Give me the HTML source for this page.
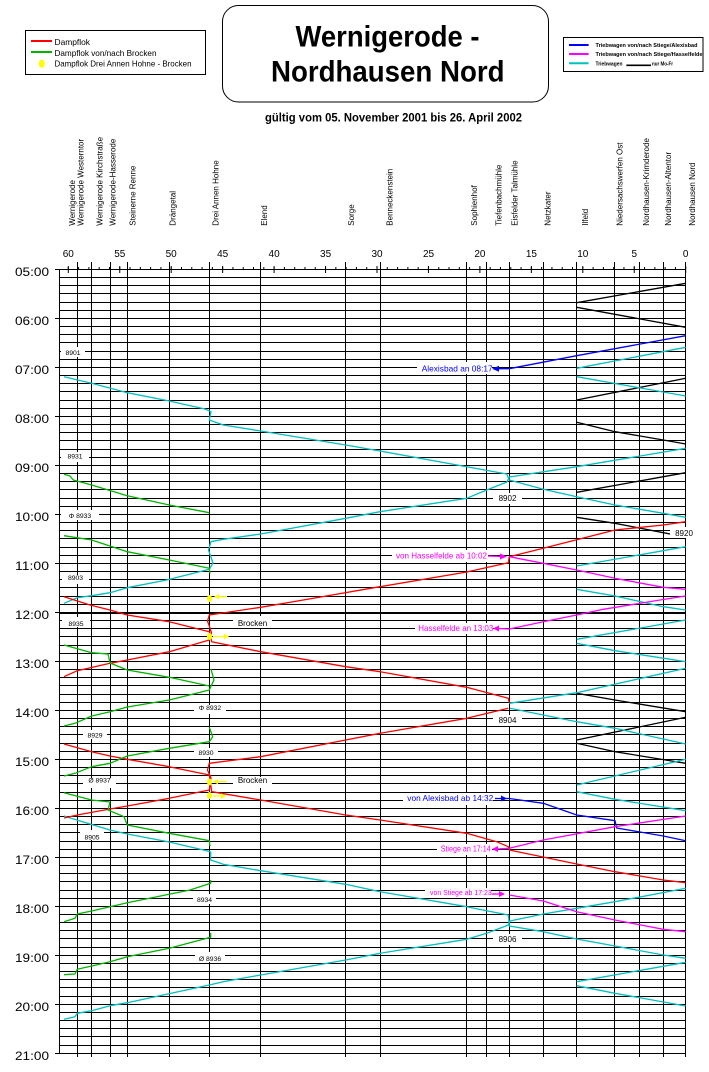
<!DOCTYPE html>
<html><head><meta charset="utf-8"><style>
html,body{margin:0;padding:0;background:#fff;}
svg{display:block;}
text{font-family:"Liberation Sans",Arial,sans-serif;}
</style></head><body>
<svg width="709" height="1072" viewBox="0 0 709 1072" xmlns="http://www.w3.org/2000/svg">
<rect x="0" y="0" width="709" height="1072" fill="#fff"/>

<!-- Left legend -->
<rect x="25.5" y="30.5" width="180" height="44" fill="#fff" stroke="#000"/>
<line x1="31" y1="41" x2="52" y2="41" stroke="#ff0000" stroke-width="2"/>
<line x1="31" y1="52" x2="52" y2="52" stroke="#00b400" stroke-width="2"/>
<ellipse cx="41.8" cy="63.8" rx="3" ry="4" fill="#ffff00"/>
<text x="54.5" y="45" font-size="8.4" textLength="35.5" lengthAdjust="spacingAndGlyphs">Dampflok</text>
<text x="54.5" y="56" font-size="8.4" textLength="102" lengthAdjust="spacingAndGlyphs">Dampflok von/nach Brocken</text>
<text x="54.5" y="66.7" font-size="8.4" textLength="137" lengthAdjust="spacingAndGlyphs">Dampflok Drei Annen Hohne - Brocken</text>

<!-- Title -->
<rect x="222.5" y="5.5" width="326" height="96.5" rx="16" ry="16" fill="#fff" stroke="#000"/>
<text x="295.5" y="46.7" font-size="30" font-weight="bold" textLength="184" lengthAdjust="spacingAndGlyphs">Wernigerode -</text>
<text x="271" y="81.7" font-size="30" font-weight="bold" textLength="233.5" lengthAdjust="spacingAndGlyphs">Nordhausen Nord</text>
<text x="265" y="121.7" font-size="11.5" font-weight="bold" textLength="257" lengthAdjust="spacingAndGlyphs">gültig vom 05. November 2001 bis 26. April 2002</text>

<!-- Right legend -->
<rect x="563.5" y="37.5" width="139.5" height="34" fill="#fff" stroke="#000"/>
<line x1="569" y1="45" x2="588.6" y2="45" stroke="#0000ff" stroke-width="2"/>
<line x1="569" y1="54" x2="588.6" y2="54" stroke="#ff00ff" stroke-width="2"/>
<line x1="569" y1="63.2" x2="588.6" y2="63.2" stroke="#00c0c0" stroke-width="2"/>
<text x="595.5" y="47.2" font-size="5.6" font-weight="bold" textLength="102" lengthAdjust="spacingAndGlyphs">Triebwagen von/nach Stiege/Alexisbad</text>
<text x="595.5" y="56.2" font-size="5.6" font-weight="bold" textLength="107" lengthAdjust="spacingAndGlyphs">Triebwagen von/nach Stiege/Hasselfelde</text>
<text x="595.5" y="65.4" font-size="5.6" font-weight="bold" textLength="27" lengthAdjust="spacingAndGlyphs">Triebwagen</text>
<line x1="626.4" y1="65.3" x2="651" y2="65.3" stroke="#000" stroke-width="1.6"/>
<text x="652" y="65.4" font-size="5.6" font-weight="bold" textLength="21" lengthAdjust="spacingAndGlyphs">nur Mo-Fr</text>

<!-- Station labels (rotated) -->
<g font-size="8" fill="#000">
<text transform="translate(75,225.7) rotate(-90)">Wernigerode</text>
<text transform="translate(83.5,225.7) rotate(-90)">Wernigerode Westerntor</text>
<text transform="translate(102.5,225.7) rotate(-90)">Wernigerode Kirchstraße</text>
<text transform="translate(115.5,225.7) rotate(-90)">Wernigerode-Hasserode</text>
<text transform="translate(135.5,225.7) rotate(-90)">Steinerne Renne</text>
<text transform="translate(175.5,225.7) rotate(-90)">Drängetal</text>
<text transform="translate(218.5,225.7) rotate(-90)">Drei Annen Hohne</text>
<text transform="translate(267,225.7) rotate(-90)">Elend</text>
<text transform="translate(354,225.7) rotate(-90)">Sorge</text>
<text transform="translate(392.5,225.7) rotate(-90)">Benneckenstein</text>
<text transform="translate(477,225.7) rotate(-90)">Sophienhof</text>
<text transform="translate(501.5,225.7) rotate(-90)">Tiefenbachmühle</text>
<text transform="translate(517.5,225.7) rotate(-90)">Eisfelder Talmühle</text>
<text transform="translate(550.5,225.7) rotate(-90)">Netzkater</text>
<text transform="translate(588,225.7) rotate(-90)">Ilfeld</text>
<text transform="translate(622.5,225.7) rotate(-90)">Niedersachswerfen Ost</text>
<text transform="translate(649,225.7) rotate(-90)">Nordhausen-Krimderode</text>
<text transform="translate(671,225.7) rotate(-90)">Nordhausen-Altentor</text>
<text transform="translate(695,225.7) rotate(-90)">Nordhausen Nord</text>
</g>

<!-- km labels -->
<g font-size="10" text-anchor="middle" fill="#000">
<text x="68.3" y="257">60</text>
<text x="119.8" y="257">55</text>
<text x="171.2" y="257">50</text>
<text x="222.7" y="257">45</text>
<text x="274.1" y="257">40</text>
<text x="325.6" y="257">35</text>
<text x="377" y="257">30</text>
<text x="428.5" y="257">25</text>
<text x="479.9" y="257">20</text>
<text x="531.4" y="257">15</text>
<text x="582.8" y="257">10</text>
<text x="634.3" y="257">5</text>
<text x="685.7" y="257">0</text>
</g>

<!-- hour labels -->
<g font-size="11.5" fill="#000">
<text x="15" y="276" textLength="34" lengthAdjust="spacingAndGlyphs">05:00</text>
<text x="15" y="325" textLength="34" lengthAdjust="spacingAndGlyphs">06:00</text>
<text x="15" y="374" textLength="34" lengthAdjust="spacingAndGlyphs">07:00</text>
<text x="15" y="423" textLength="34" lengthAdjust="spacingAndGlyphs">08:00</text>
<text x="15" y="472" textLength="34" lengthAdjust="spacingAndGlyphs">09:00</text>
<text x="15" y="521" textLength="34" lengthAdjust="spacingAndGlyphs">10:00</text>
<text x="15" y="570" textLength="34" lengthAdjust="spacingAndGlyphs">11:00</text>
<text x="15" y="619" textLength="34" lengthAdjust="spacingAndGlyphs">12:00</text>
<text x="15" y="668" textLength="34" lengthAdjust="spacingAndGlyphs">13:00</text>
<text x="15" y="717" textLength="34" lengthAdjust="spacingAndGlyphs">14:00</text>
<text x="15" y="766" textLength="34" lengthAdjust="spacingAndGlyphs">15:00</text>
<text x="15" y="815" textLength="34" lengthAdjust="spacingAndGlyphs">16:00</text>
<text x="15" y="864" textLength="34" lengthAdjust="spacingAndGlyphs">17:00</text>
<text x="15" y="913" textLength="34" lengthAdjust="spacingAndGlyphs">18:00</text>
<text x="15" y="962" textLength="34" lengthAdjust="spacingAndGlyphs">19:00</text>
<text x="15" y="1011" textLength="34" lengthAdjust="spacingAndGlyphs">20:00</text>
<text x="15" y="1060" textLength="34" lengthAdjust="spacingAndGlyphs">21:00</text>
</g>

<!-- Grid -->
<g stroke="#000" stroke-width="1" fill="none" shape-rendering="crispEdges">
<path d="M59 269.5H686M59 277.5H686M59 285.5H686M59 293.5H686M59 302.5H686M59 310.5H686M59 318.5H686M59 326.5H686M59 334.5H686M59 342.5H686M59 351.5H686M59 359.5H686M59 367.5H686M59 375.5H686M59 383.5H686M59 391.5H686M59 400.5H686M59 408.5H686M59 416.5H686M59 424.5H686M59 432.5H686M59 440.5H686M59 449.5H686M59 457.5H686M59 465.5H686M59 473.5H686M59 481.5H686M59 489.5H686M59 498.5H686M59 506.5H686M59 514.5H686M59 522.5H686M59 530.5H686M59 538.5H686M59 547.5H686M59 555.5H686M59 563.5H686M59 571.5H686M59 579.5H686M59 587.5H686M59 596.5H686M59 604.5H686M59 612.5H686M59 620.5H686M59 628.5H686M59 636.5H686M59 645.5H686M59 653.5H686M59 661.5H686M59 669.5H686M59 677.5H686M59 685.5H686M59 694.5H686M59 702.5H686M59 710.5H686M59 718.5H686M59 726.5H686M59 734.5H686M59 743.5H686M59 751.5H686M59 759.5H686M59 767.5H686M59 775.5H686M59 783.5H686M59 792.5H686M59 800.5H686M59 808.5H686M59 816.5H686M59 824.5H686M59 832.5H686M59 841.5H686M59 849.5H686M59 857.5H686M59 865.5H686M59 873.5H686M59 881.5H686M59 890.5H686M59 898.5H686M59 906.5H686M59 914.5H686M59 922.5H686M59 930.5H686M59 938.5H686M59 947.5H686M59 955.5H686M59 963.5H686M59 971.5H686M59 979.5H686M59 987.5H686M59 996.5H686M59 1004.5H686M59 1012.5H686M59 1020.5H686M59 1028.5H686M59 1036.5H686M59 1045.5H686M59 1053.5H686"/>
<path d="M59 613.5H686"/>
<path d="M59.5 269V1054"/>
<path d="M55 269.5H59M55 318.5H59M55 367.5H59M55 416.5H59M55 465.5H59M55 514.5H59M55 563.5H59M55 612.5H59M55 661.5H59M55 710.5H59M55 759.5H59M55 808.5H59M55 857.5H59M55 906.5H59M55 955.5H59M55 1004.5H59M55 1053.5H59"/>
<path d="M77.5 262V1057M91.5 262V1057M110.5 262V1057M127.5 262V1057M169.5 262V1057M209.5 262V1057M260.5 262V1057M345.5 262V1057M380.5 262V1057M466.5 262V1057M486.5 262V1057M509.5 262V1057M543.5 262V1057M576.5 262V1057M614.5 262V1057M639.5 262V1057M663.5 262V1057M685.5 262V1057"/>
</g>
<line x1="686.2" y1="268" x2="60" y2="268" stroke="#000" stroke-width="2" stroke-dasharray="1 9.29"/>
<line x1="686.2" y1="269.5" x2="60" y2="269.5" stroke="#000" stroke-width="7" stroke-dasharray="1 50.45"/>

<!-- Trains -->
<g fill="none" stroke-width="1.3" stroke-linejoin="round">
<!-- black -->
<g stroke="#000">
<path d="M685.7 283.3L576.7 302.7"/>
<path d="M576.7 307.3L685.7 327.3"/>
<path d="M576.7 400L685.7 378.3"/>
<path d="M576.7 422.3L615 431.7L663.3 440L685.7 444"/>
<path d="M576.7 492.3L685.7 472.7"/>
<path d="M576.7 517.3L615 523.3L663.3 532.7L685.7 537"/>
<path d="M576.7 693.3L615 700L685.7 711.7"/>
<path d="M576.7 740L685.7 717.3"/>
<path d="M576.7 743.3L615 751.7L685.7 763.3"/>
</g>
<!-- blue -->
<g stroke="#0000ff">
<path d="M685.7 335.7L576.7 355.7L509.3 368.7L498 368.7"/>
<path d="M495 798.5L509.3 798.5L543.3 803.3L576.7 815L615 820.7L616.7 828L663.3 836L685.7 840.7"/>
</g>
<!-- cyan -->
<g stroke="#00c0c0">
<path d="M685.7 347.3L576.7 368.3"/>
<path d="M576.7 376.7L685.7 396"/>
<path d="M64 376.7L91.7 383.3L127.3 392.7L169.3 401L205 409L211 411.7L209.3 420L223.3 425L260.7 431L345.7 445L380 451L506.7 474L509.3 480L543.3 489.3L576.7 496.7L615 505L663.3 513.3L685.7 517.3"/>
<path d="M685.7 448.3L576.7 466.7L509.3 477L507 482L486.7 490L466.7 498.3L380 511.7L345.7 518.3L260.7 534L223.3 539.3L211 541.7L208.5 550L213 563L209.3 569.3L166.7 580L127.3 587.7L110 592.7L91.7 595.7L77.3 597.7L64 603.3"/>
<path d="M576.7 566L685.7 546.7"/>
<path d="M576.7 589.3L615 596L663.3 606.7L685.7 610"/>
<path d="M685.7 620L576.7 639.3"/>
<path d="M576.7 643.3L615 650.7L685.7 661.7"/>
<path d="M685.7 668.3L576.7 692.7L509.3 703.3"/>
<path d="M510 708.3L576.7 721.7L615 728.3L685.7 744"/>
<path d="M685.7 759.3L576.7 785"/>
<path d="M576.7 791.7L615 799.3L685.7 810.7"/>
<path d="M64 816L76.7 820L110 830L127.3 834L169.3 842L206.7 850.7L210.7 852L210.7 860L223.3 864.3L260.7 870.7L345.7 884.3L380 891.7L466.7 906.7L486.7 910.7L508.3 915L509.3 926L543.3 931.7L576.7 939L615 946L663.3 955L685.7 958.3"/>
<path d="M685.7 888.3L615 901.7L576.7 908.3L543.3 914L510 921L508.3 925L486.7 933.3L466.7 939.3L380 953.3L345.7 960L260.7 975L223.3 981.7L209.3 985L127.3 1002.7L110 1005.7L91.7 1010.7L77.3 1013.3L75 1016.7L64 1019.3"/>
<path d="M576.7 981.7L685.7 962.3"/>
<path d="M576.7 985.7L615 993.3L685.7 1006"/>
</g>
<!-- red -->
<g stroke="#ff0000">
<path d="M685.7 521.7L663.3 525L615 530L543.3 548.3L509.3 556.7L508.3 562.7L466.7 572L380 586.7L303.3 600L260.7 607.3L209.3 615L207.5 621L209.3 626L211.5 633L209.3 640L169.3 651.7L127.3 660L110 663.3L77.3 670.7L64 676.7"/>
<path d="M64 596.7L90 605L110 610L127.3 615L169.3 621.7L209.3 631.7L211.7 641.7L260.7 651.7L345.7 666.7L380 671.7L466.7 687.3L508.3 698.3L509.3 703"/>
<path d="M508.3 708.3L466.7 718.3L380 733.3L345.7 740L260.7 756.7L209.3 763.3L207.5 770L211 778L209.3 790L169.3 798.3L127.3 806L110 809L77.3 815L64 818"/>
<path d="M64 744L91.7 751.7L110 756L127.3 759.3L169.3 766.7L209.3 775L211.7 791.7L260.7 800L345.7 815L380 820L466.7 833.3L496.7 841.7L508.3 846.7L509.3 850L576.7 864L615 871.7L663.3 880L685.7 882.7"/>
</g>
<!-- magenta -->
<g stroke="#ff00ff">
<path d="M488 556L502 556.5"/>
<path d="M509.3 556.7L543.3 563.3L576.7 570L615 578.3L663.3 587.3L685.7 589.3"/>
<path d="M685.7 596L660 600L603.3 609.3L576.7 615L543.3 621.7L509.3 629L498 628.5"/>
<path d="M685.7 816L615 826.7L543.3 840L509.3 848.3L497 849"/>
<path d="M491.7 894L500 894"/>
<path d="M509.3 895L543.3 901L576.7 911.7L615 920L663.3 929.3L685.7 931.7"/>
</g>
<!-- green -->
<g stroke="#00b400">
<path d="M64 474.3L70 476L73.3 480L91.7 485L127.3 495.7L169.3 505L209.3 512.7"/>
<path d="M64 535.7L91.7 540L127.3 551.7L169.3 560L209.3 568.3L210 573.3"/>
<path d="M64 645L91.7 652.7L108 654L110 663L127.3 670L169.3 677.3L209.3 686"/>
<path d="M211 669L214 680L209.3 690L169.3 700L127.3 707L110 711.7L91.7 716L75 723.3L64 726"/>
<path d="M209.3 727.3L212.7 736.7L209.3 741.7L169.3 748.3L127.3 756L110 763.3L91.7 766.7L75 773.3L64 776"/>
<path d="M64 792.7L91.7 800L110 802L108 810L124 816.7L127.3 825L169.3 833.3L209.3 840.7L210 846"/>
<path d="M210.7 880L210.7 883.3L190 890L127.3 902.7L110 906.7L91.7 911L77.3 914L75 918.3L64 921.7"/>
<path d="M210.7 933L210.7 937.3L169.3 948.3L127.3 956.7L110 961.7L91.7 966L77.3 969.3L75 974L64 974.7"/>
</g>
</g>

<!-- arrowheads -->
<polygon points="492,368.7 499,365.7 499,371.7" fill="#0000ff"/>
<polygon points="507,556.5 500,553.5 500,559.5" fill="#ff00ff"/>
<polygon points="493,628.5 499,625.5 499,631.5" fill="#ff00ff"/>
<polygon points="507,798.5 501,795.5 501,801.5" fill="#0000ff"/>
<polygon points="492,849 498,846 498,852" fill="#ff00ff"/>
<polygon points="505,894 499,891 499,897" fill="#ff00ff"/>

<!-- yellow markers -->
<g fill="#ffff00" stroke="#ffff00">
<ellipse cx="209.5" cy="598.5" rx="2.5" ry="3.5" stroke="none"/>
<line x1="218" y1="596.7" x2="227" y2="596.7" stroke-width="1.3"/>
<polygon points="214,596.7 219,594 219,599.4" stroke="none"/>
<ellipse cx="209.5" cy="636.5" rx="2.5" ry="3.5" stroke="none"/>
<line x1="213" y1="636.5" x2="225" y2="636.5" stroke-width="1.3"/>
<polygon points="229,636.5 224,633.8 224,639.2" stroke="none"/>
<ellipse cx="209.5" cy="782" rx="2.5" ry="3.5" stroke="none"/>
<line x1="217" y1="781.7" x2="227" y2="781.7" stroke-width="1.3"/>
<polygon points="213,781.7 218,779 218,784.4" stroke="none"/>
<ellipse cx="209.5" cy="795.5" rx="2.5" ry="3.5" stroke="none"/>
<line x1="213" y1="796" x2="222" y2="796" stroke-width="1.3"/>
<polygon points="226,796 221,793.3 221,798.7" stroke="none"/>
</g>

<!-- label boxes -->
<g fill="#fff">
<rect x="61" y="347" width="24" height="10"/>
<rect x="61" y="452" width="28" height="10"/>
<rect x="61" y="510" width="38" height="10"/>
<rect x="62" y="575" width="27" height="9"/>
<rect x="62" y="617" width="28" height="10"/>
<rect x="194" y="705" width="32" height="9"/>
<rect x="83" y="730" width="24" height="9"/>
<rect x="194" y="748" width="24" height="9"/>
<rect x="83" y="778" width="33" height="10"/>
<rect x="80" y="830" width="24" height="10"/>
<rect x="193" y="894" width="23" height="10"/>
<rect x="195" y="952" width="30" height="10"/>
<rect x="493" y="493" width="29" height="11"/>
<rect x="670" y="527" width="30" height="11"/>
<rect x="493" y="715" width="29" height="11"/>
<rect x="493" y="934" width="29" height="11"/>
<rect x="233" y="616" width="39" height="12"/>
<rect x="233" y="777" width="39" height="11"/>
<rect x="417" y="362" width="75" height="12"/>
<rect x="392" y="550" width="96" height="12"/>
<rect x="415" y="623" width="78" height="11"/>
<rect x="403" y="793" width="90" height="12"/>
<rect x="437" y="844" width="55" height="11"/>
<rect x="425" y="888" width="66" height="10"/>
</g>

<!-- train number labels -->
<g font-size="6.8" text-anchor="middle" fill="#000">
<text x="73" y="355">8901</text>
<text x="75" y="458.5">8931</text>
<text x="80" y="518">Φ 8933</text>
<text x="75.5" y="580">8903</text>
<text x="76" y="626">8935</text>
<text x="210" y="710">Φ 8932</text>
<text x="95" y="737.5">8929</text>
<text x="206" y="755">8930</text>
<text x="99.5" y="782.5">Ø 8937</text>
<text x="92" y="839.5">8905</text>
<text x="204.5" y="902">8934</text>
<text x="210" y="961">Ø 8936</text>
</g>
<g font-size="8" text-anchor="middle" fill="#000">
<text x="507.5" y="501">8902</text>
<text x="684" y="536">8920</text>
<text x="507.5" y="723">8904</text>
<text x="507.5" y="942">8906</text>
<text x="252.5" y="626">Brocken</text>
<text x="252.5" y="783">Brocken</text>
</g>

<!-- arrow labels -->
<text x="421.7" y="371.5" font-size="8.5" fill="#0000ff" textLength="71" lengthAdjust="spacingAndGlyphs">Alexisbad an 08:17</text>
<text x="396" y="558.5" font-size="8.5" fill="#ff00ff" textLength="91" lengthAdjust="spacingAndGlyphs">von Hasselfelde ab 10:02</text>
<text x="418.3" y="631" font-size="8.5" fill="#ff00ff" textLength="75" lengthAdjust="spacingAndGlyphs">Hasselfelde an 13:03</text>
<text x="407.3" y="801" font-size="8.5" fill="#0000ff" textLength="86" lengthAdjust="spacingAndGlyphs">von Alexisbad ab 14:32</text>
<text x="440.7" y="851.5" font-size="8" fill="#ff00ff" textLength="50" lengthAdjust="spacingAndGlyphs">Stiege an 17:14</text>
<text x="430" y="895" font-size="7" fill="#ff00ff" textLength="61.7" lengthAdjust="spacingAndGlyphs">von Stiege ab 17:23</text>
</svg>
</body></html>
